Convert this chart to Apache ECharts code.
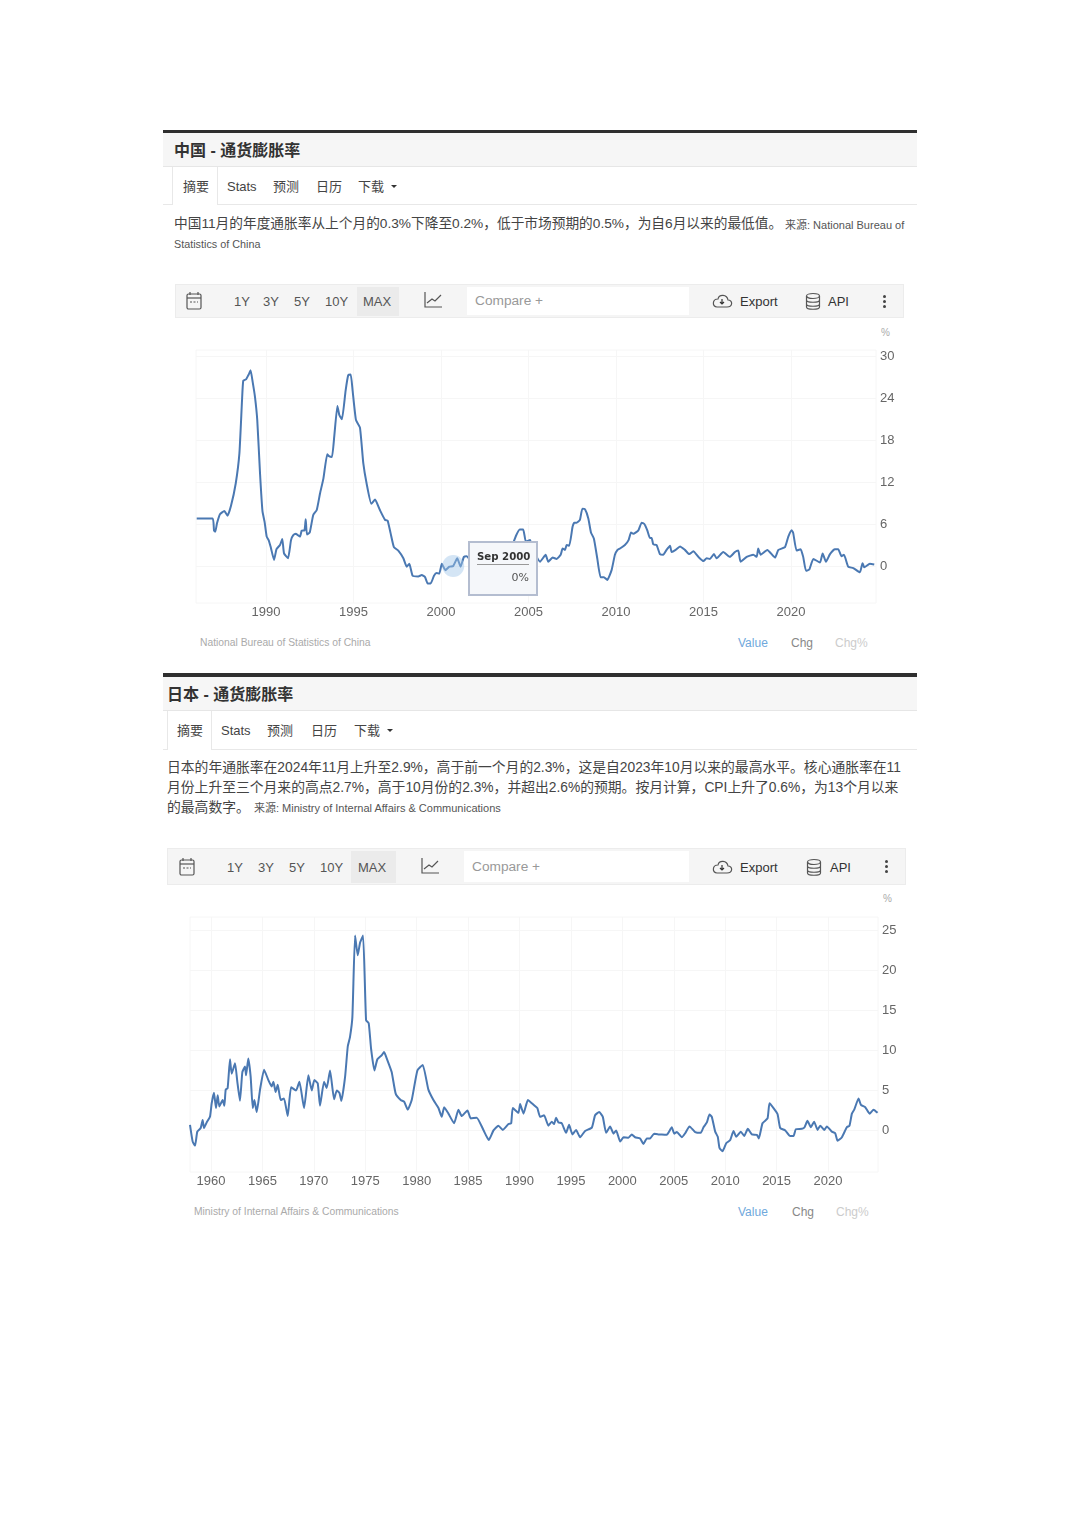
<!DOCTYPE html>
<html>
<head>
<meta charset="utf-8">
<title>通货膨胀率</title>
<script src="https://cdn.jsdelivr.net/npm/echarts@6/dist/echarts.min.js"></script>
<style>
html,body{margin:0;padding:0;background:#fff;}
#page{position:relative;width:1080px;height:1527px;overflow:hidden;font-family:"Liberation Sans","Noto Sans CJK SC",sans-serif;color:#444;}
.box{position:absolute;box-sizing:border-box;}
.t{position:absolute;white-space:nowrap;transform:translateY(-50%);line-height:1;}
.chart{position:absolute;}
svg{position:absolute;overflow:visible;fill:none;stroke:#555;stroke-width:1.2;}
</style>
</head>
<body>
<div id="page"></div>
<script>
// 中国
var cnYears=[1986.04,1986.95,1987.03,1987.1,1987.2,1987.37,1987.62,1987.8,1988.0,1988.27,1988.48,1988.63,1988.7,1988.86,1988.99,1989.05,1989.12,1989.24,1989.37,1989.5,1989.66,1989.8,1989.92,1990.04,1990.15,1990.27,1990.46,1990.6,1990.8,1990.93,1991.03,1991.26,1991.43,1991.56,1991.71,1991.94,1992.04,1992.2,1992.27,1992.34,1992.5,1992.7,1992.9,1993.09,1993.28,1993.5,1993.6,1993.77,1993.9,1994.08,1994.19,1994.34,1994.55,1994.7,1994.84,1994.95,1995.14,1995.37,1995.56,1995.75,1996.02,1996.23,1996.51,1996.8,1996.95,1997.12,1997.31,1997.56,1997.85,1998.04,1998.19,1998.38,1998.7,1998.9,1999.09,1999.24,1999.41,1999.6,1999.75,1999.9,2000.05,2000.25,2000.48,2000.7,2000.93,2001.12,2001.31,2001.47,2002.0,2002.5,2003.0,2003.3,2003.5,2003.9,2004.1,2004.3,2004.5,2004.7,2004.85,2005.09,2005.2,2005.47,2005.66,2005.98,2006.13,2006.38,2006.61,2006.84,2006.95,2007.09,2007.18,2007.33,2007.52,2007.62,2007.75,2007.94,2008.08,2008.23,2008.42,2008.57,2008.74,2008.93,2009.12,2009.31,2009.5,2009.75,2009.94,2010.09,2010.23,2010.51,2010.72,2010.86,2010.99,2011.28,2011.47,2011.62,2011.79,2011.94,2012.04,2012.13,2012.32,2012.51,2012.7,2012.89,2013.09,2013.18,2013.41,2013.66,2013.94,2014.19,2014.42,2014.71,2015.0,2015.18,2015.37,2015.6,2015.75,2016.13,2016.51,2016.8,2016.99,2017.12,2017.47,2017.85,2018.04,2018.13,2018.27,2018.65,2019.09,2019.28,2019.66,2019.85,2020.04,2020.13,2020.32,2020.55,2020.7,2020.86,2021.05,2021.28,2021.66,2021.81,2022.0,2022.23,2022.51,2022.7,2022.89,2023.03,2023.27,2023.56,2023.94,2024.09,2024.19,2024.51,2024.76];
var cnRates=[6.8,6.8,5.05,4.9,6.1,7.4,7.86,7.2,8.6,11.8,16.1,23.7,26.5,26.7,27.3,27.6,28,26.3,24.2,20.9,13.2,7.8,6.3,4.2,3.7,2.7,0.86,2.4,3,3.86,1.8,1.1,3.7,4.4,4.6,4.2,5.05,5.1,6.7,4.5,4.8,7.3,8,10.4,12.5,16,15.7,15.6,18.5,22.9,21.6,21,25.1,27.3,27.4,25.1,20.9,19.8,14.7,11.8,8.9,9.5,8,6.6,6.5,4.7,2.7,2.2,1.1,-0.1,0.3,-1.4,-1.5,-1.3,-1.6,-2.5,-2.5,-1.4,-1,-1.1,0.3,-0.6,-0.1,0,1.1,-0.1,1.3,1.4,-0.5,-0.8,0.4,1,0.5,3,3.2,4.4,5.2,5.2,3.5,3.7,2.7,1.3,0.6,1.6,0.6,1.2,1,1.6,2.5,2.3,3,2.9,5.6,6.2,6.2,6.6,8.2,8.1,6.8,4.8,3.9,1.1,-1.6,-1.6,-2,-0.6,1.6,2.3,2.5,3,3.7,4.8,4.6,5.1,6.2,6,5.1,4,4,3.1,3,1.7,1.6,2.3,2.9,2,2.3,2.8,2.3,1.7,2.1,1.3,0.7,1.1,1,1.7,1.1,2,1.3,2,2.2,0.6,1.3,1.6,1.3,2.5,1.6,2.3,1.2,2.3,2.7,4.2,5.1,4.7,2.2,2.4,1.3,-0.7,-0.5,1,0.5,1.8,0.6,1.7,2.4,2.4,1.4,1.6,-0.1,-0.3,-0.9,0.4,-0.2,0.3,0.2];
var cnXTicks=[1990,1995,2000,2005,2010,2015,2020];
var cnYTicks=[0,6,12,18,24,30];
// 悬停点 Sep 2000
var cnHoverYear=[2000.7];
var cnHoverRate=[0];

// 日本
var jpYears=[1957.96,1958.22,1958.45,1958.67,1959,1959.19,1959.32,1959.58,1959.9,1960.07,1960.29,1960.49,1960.65,1960.81,1961.14,1961.3,1961.43,1961.62,1961.85,1962.01,1962.34,1962.56,1962.82,1963.05,1963.31,1963.41,1963.63,1963.86,1964.06,1964.22,1964.45,1964.77,1965.16,1965.58,1965.9,1966.07,1966.29,1966.49,1966.78,1967.1,1967.46,1967.79,1968.27,1968.6,1969.05,1969.47,1969.8,1970.05,1970.38,1970.6,1970.99,1971.25,1971.58,1971.97,1972.23,1972.49,1972.68,1973.04,1973.3,1973.52,1973.75,1974.01,1974.27,1974.5,1974.79,1975.08,1975.34,1975.57,1975.89,1976.18,1976.6,1976.83,1977.15,1977.57,1977.96,1978.45,1978.78,1979.13,1979.52,1980.07,1980.59,1981.14,1981.63,1982.12,1982.44,1982.67,1983.09,1983.64,1984.06,1984.38,1984.94,1985.26,1985.84,1986.49,1987.01,1987.47,1987.95,1988.38,1988.93,1989.19,1989.35,1989.9,1990.06,1990.39,1990.81,1991.03,1991.52,1991.74,1992,1992.39,1992.81,1993.14,1993.36,1993.56,1993.79,1994.11,1994.53,1994.82,1995.15,1995.5,1995.89,1996.38,1997.03,1997.35,1997.74,1998.1,1998.42,1998.81,1999.14,1999.4,1999.79,2000.11,2000.6,2000.92,2001.24,2001.73,2002.05,2002.38,2002.7,2003.09,2003.51,2003.84,2004.32,2004.81,2005.04,2005.3,2005.78,2006.11,2006.53,2007.08,2007.63,2007.89,2008.22,2008.47,2008.7,2009.03,2009.28,2009.45,2009.74,2010.1,2010.49,2010.81,2011.07,2011.52,2011.85,2012.2,2012.59,2013.08,2013.27,2013.63,2014.12,2014.31,2014.7,2015.09,2015.35,2015.84,2016.32,2016.65,2016.87,2017.46,2017.72,2018,2018.33,2018.65,2018.98,2019.24,2019.63,2019.89,2020.37,2020.7,2020.93,2021.35,2021.83,2022.09,2022.32,2022.55,2022.97,2023.2,2023.62,2024.04,2024.43,2024.82];
var jpRates=[0.7,-1.4,-1.9,-0.15,0.3,1.3,0.3,1,1.7,3.4,4.7,2.8,4.4,3,3.8,3.1,5.1,5.3,8.9,7.1,8.4,6.1,3.7,7.3,8,6.9,9,6.7,2.8,3.8,2.3,5.1,7.6,6.3,5.5,6.1,4.8,5.7,3.8,4,1.8,5.4,5,6.1,2.8,6.9,5,6.3,5.9,3.1,6.1,5.3,7.5,3.9,5,4.7,3.7,6.7,10.5,11.7,14.2,24.4,21.9,23.5,24.4,13.8,13.4,10.2,7.5,8.9,9.4,9.8,8.8,7.3,4.6,3.8,3.6,2.6,3.8,7.5,8.2,5.1,3.8,2.8,1.7,2.9,2.1,0.9,2.6,1.8,2.5,1.5,1.6,0.06,-1.2,0,0.6,0.06,0.8,0.9,2.8,2.2,3.3,2.1,3.8,3.6,3.05,2.8,1.7,1.9,0.6,1.1,0.8,1.6,1,0.9,-0.3,0.7,-0.5,0.06,-0.85,-0.06,0.35,1.9,2.3,1.7,-0.3,0.5,-0.4,0,-1.4,-0.85,-0.9,-0.5,-0.85,-1,-1.7,-1,-1,-0.4,-0.5,-0.5,-0.55,0.4,-0.4,-0.2,-0.85,-0.35,0.5,-0.2,-0.3,0.4,1,2,1.7,-0.15,-0.8,-2.2,-2.6,-1.6,-1.2,-0.06,-0.8,-0.15,-0.7,0.2,-0.5,-0.55,-1,0.9,1.5,3.4,2.8,2.05,0.3,0,-0.7,-0.7,0.15,0.2,0.4,1.2,0.4,1.1,0.06,0.6,0.06,0.5,-0.15,-0.35,-1.3,-0.85,0.4,0.6,2.1,2.6,4,3.2,2.9,2.1,2.6,2.2];
var jpXTicks=[1960,1965,1970,1975,1980,1985,1990,1995,2000,2005,2010,2015,2020];
var jpYTicks=[0,5,10,15,20,25];

var page=document.getElementById("page");

function box(x,y,w,h,css){
    var d=document.createElement("div");
    d.className="box";
    d.style.cssText="left:"+x+"px;top:"+y+"px;width:"+w+"px;height:"+h+"px;"+(css||"");
    page.appendChild(d);
    return d;
}
function txt(x,y,s,size,color,extra){
    var d=document.createElement("div");
    d.className="t";
    d.style.cssText="left:"+x+"px;top:"+y+"px;font-size:"+size+"px;color:"+color+";"+(extra||"");
    d.textContent=s;
    page.appendChild(d);
}
function icon(x,y,inner){
    var ns=document.createElement("div");
    ns.innerHTML='<svg style="left:'+x+'px;top:'+y+'px" width="20" height="20">'+inner+'</svg>';
    page.appendChild(ns.firstChild);
}

// 标题、标签页、工具条
function panel(p){
    box(163,p.barY,754,p.barH,"background:#2f2f2f;");
    box(163,p.barY+p.barH,754,34,"background:#f6f6f6;border-bottom:1px solid #e6e6e6;");
    txt(p.textX,p.barY+p.barH+17.5,p.title,16,"#333","font-weight:bold;");
    var tabY=p.barY+p.barH+34;
    box(163,tabY+p.tabH,754,1,"background:#e8e8e8;");
    box(p.tabX,tabY,p.tabW,p.tabH+1,"background:#fff;border-left:1px solid #e8e8e8;border-right:1px solid #e8e8e8;");
    var my=tabY+p.tabH/2;
    for(var i=0;i<p.tabs.length;i++){
        txt(p.tabPos[i],my,p.tabs[i],13,"#444");
    }
    box(p.tabPos[4]+33,my-1,0,0,"border-left:3px solid transparent;border-right:3px solid transparent;border-top:3px solid #333;");
    for(var j=0;j<p.lines.length;j++){
        txt(p.textX,p.lines[j][0],p.lines[j][1],p.lines[j][2],"#444",p.lines[j][3]||"");
    }
    if(p.source){
        txt(p.source[0],p.source[1],p.source[2],11,"#555");
    }
    // 工具条
    var b=p.bar;
    box(b.x,b.y,b.w,b.h,"background:#f5f5f5;border:1px solid #ececec;");
    box(b.maxX,b.y+3,b.maxW,b.h-5,"background:#ebebeb;");
    box(b.cmpX,b.y+3,b.cmpW,b.h-6,"background:#fff;");
    var cy=b.y+b.h/2;
    var names=["1Y","3Y","5Y","10Y","MAX"];
    for(var k=0;k<5;k++){
        txt(b.rangeX[k],cy,names[k],13,"#555");
    }
    txt(b.cmpX+8,cy,"Compare +",13.7,"#999");
    txt(740,cy,"Export",13,"#333");
    txt(b.apiX,cy,"API",13,"#333");
    // 日历
    icon(b.calX-9,cy-10,'<rect x="2" y="3" width="14" height="15" rx="1.5"/><line x1="2" y1="7" x2="16" y2="7"/><line x1="5" y1="1" x2="5" y2="4"/><line x1="13" y1="1" x2="13" y2="4"/><line x1="5" y1="11" x2="13" y2="11" stroke-dasharray="2 1.5"/>');
    // 折线图标
    icon(b.lineX-8,cy-10,'<path d="M1 1V16H18"/><path d="M3 12L8 8L11 10L17 4"/>');
    // 云
    icon(712,cy-8,'<path d="M5 14H15C21 14 21 7 16 7C15 1 7 1 6 6C0 6 0 14 5 14Z"/><path d="M10 6V11M8 9L10 11L12 9" stroke="#333"/>');
    // 数据库
    icon(b.dbX-8,cy-9,'<ellipse cx="8" cy="4" rx="6.5" ry="2.5"/><path d="M1.5 4V15C1.5 18 14.5 18 14.5 15V4M1.5 8C1.5 11 14.5 11 14.5 8M1.5 12C1.5 15 14.5 15 14.5 12"/>');
    // 竖排三点
    for(var m=-1;m<2;m++){
        box(b.dotsX-1.5,cy+m*5-1.5,3,3,"background:#444;border-radius:50%;");
    }
    // 图下文字
    txt(b.pctX,b.pctY,"%",10,"#aaa");
    txt(b.srcX,b.footY,b.srcText,10.3,"#aaa");
    txt(738,b.footY,"Value",12,"#6fa8dc");
    txt(b.chgX,b.footY,"Chg",12,"#888");
    txt(b.chgX+44,b.footY,"Chg%",12,"#ccc");
}

panel({
    barY:130,barH:3,title:"中国 - 通货膨胀率",textX:174,
    tabX:172,tabW:46,tabH:37,
    tabs:["摘要","Stats","预测","日历","下载"],tabPos:[183,227,273,316,358],
    lines:[[224,"中国11月的年度通胀率从上个月的0.3%下降至0.2%，低于市场预期的0.5%，为自6月以来的最低值。",13.7],
           [244,"Statistics of China",10.8,"color:#555;"]],
    source:[785,225,"来源: National Bureau of"],
    bar:{x:175,y:284,w:729,h:34,maxX:357,maxW:42,cmpX:467,cmpW:222,
         rangeX:[234,263,294,325,363],calX:194,lineX:432,dbX:813,apiX:828,dotsX:884,
         pctX:881,pctY:333,srcX:200,srcText:"National Bureau of Statistics of China",footY:643,chgX:791}
});
panel({
    barY:673,barH:4,title:"日本 - 通货膨胀率",textX:167,
    tabX:167,tabW:45,tabH:38,
    tabs:["摘要","Stats","预测","日历","下载"],tabPos:[177,221,267,311,354],
    lines:[[768,"日本的年通胀率在2024年11月上升至2.9%，高于前一个月的2.3%，这是自2023年10月以来的最高水平。核心通胀率在11",13.8],
           [788,"月份上升至三个月来的高点2.7%，高于10月份的2.3%，并超出2.6%的预期。按月计算，CPI上升了0.6%，为13个月以来",13.8],
           [808,"的最高数字。",13.8]],
    source:[254,808,"来源: Ministry of Internal Affairs & Communications"],
    bar:{x:167,y:848,w:739,h:37,maxX:351,maxW:45,cmpX:464,cmpW:225,
         rangeX:[227,258,289,320,358],calX:187,lineX:429,dbX:814,apiX:830,dotsX:886,
         pctX:883,pctY:899,srcX:194,srcText:"Ministry of Internal Affairs & Communications",footY:1212,chgX:792}
});

function lineChart(cfg){
    var dom=document.createElement("div");
    dom.className="chart";
    dom.style.cssText="left:163px;top:"+cfg.top+"px;width:754px;height:"+cfg.height+"px;";
    page.appendChild(dom);
    var data=[];
    for(var i=0;i<cfg.years.length;i++){
        data.push([cfg.years[i],cfg.rates[i]]);
    }
    var grid="#f6f6f6";
    var series=[{
        type:"line",
        data:data,
        showSymbol:false,
        smooth:0.15,
        silent:true,
        lineStyle:{color:"#4a78b2",width:2},
        emphasis:{disabled:true}
    }];
    var option={
        animation:false,
        grid:{left:cfg.left,right:cfg.right,top:cfg.gridTop,height:cfg.gridH,show:true,borderColor:grid,borderWidth:1,containLabel:false},
        xAxis:{
            type:"value",min:cfg.xMin,max:cfg.xMax,
            axisLine:{show:false},
            axisTick:{show:false,customValues:cfg.xTicks},
            splitLine:{show:true,lineStyle:{color:grid}},
            axisLabel:{customValues:cfg.xTicks,color:"#666",fontSize:13,margin:cfg.xMargin,fontFamily:"Liberation Sans",
                formatter:function(v){return String(v);}}
        },
        yAxis:{
            type:"value",position:"right",min:cfg.yMin,max:cfg.yMax,
            axisLine:{show:false},
            axisTick:{show:false,customValues:cfg.yTicks},
            splitLine:{show:true,lineStyle:{color:grid}},
            axisLabel:{customValues:cfg.yTicks,color:"#666",fontSize:13,margin:4,fontFamily:"Liberation Sans"}
        },
        series:series
    };
    if(cfg.hoverYear){
        series.push({
            type:"scatter",
            data:[[cfg.hoverYear[0],cfg.hoverRate[0]]],
            symbolSize:22,
            itemStyle:{color:"#9fc5e8",opacity:0.45},
            emphasis:{disabled:true},
            z:3
        });
        option.tooltip={
            trigger:"item",alwaysShowContent:true,transitionDuration:0,
            position:cfg.tipPos,padding:0,borderWidth:0,backgroundColor:"transparent",
            extraCssText:"box-shadow:none;",
            formatter:function(){
                return '<div style="box-sizing:border-box;width:70px;height:55px;background:#f5f7fa;border:2px solid #b4bdd0;padding:6px 7px;font-family:\'DejaVu Sans\';color:#333;">'
                    +'<div style="font-size:10.2px;font-weight:bold;line-height:15px;border-bottom:1px solid #999;white-space:nowrap;margin:0 0 6px 0;">Sep 2000</div>'
                    +'<div style="font-size:11px;line-height:14px;text-align:right;color:#555;">0%</div></div>';
            }
        };
    }
    var chart=echarts.init(dom);
    chart.setOption(option);
    if(cfg.hoverYear){
        chart.dispatchAction({type:"showTip",seriesIndex:1,dataIndex:0});
    }
}

lineChart({top:325,height:305,left:33,right:41,gridTop:25,gridH:253,
    years:cnYears,rates:cnRates,xTicks:cnXTicks,yTicks:cnYTicks,
    xMin:1986,xMax:2024.86,yMin:-5.3,yMax:30.9,xMargin:3,
    hoverYear:cnHoverYear,hoverRate:cnHoverRate,tipPos:[305,216]});
lineChart({top:890,height:305,left:27,right:39,gridTop:27,gridH:255,
    years:jpYears,rates:jpRates,xTicks:jpXTicks,yTicks:jpYTicks,
    xMin:1957.96,xMax:2024.86,yMin:-5.2,yMax:26.7,xMargin:3});
</script>
</body>
</html>
